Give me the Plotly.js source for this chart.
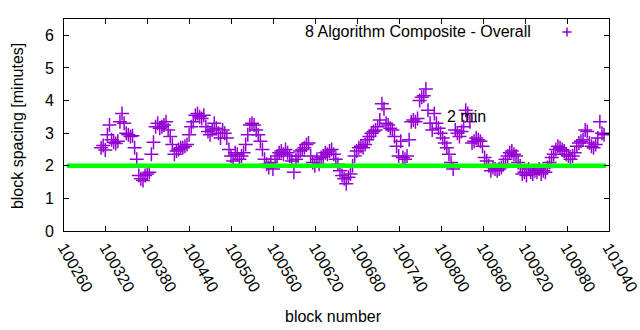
<!DOCTYPE html>
<html>
<head>
<meta charset="utf-8">
<script src="https://cdn.plot.ly/plotly-3.0.1.min.js"></script>
<style>html,body{margin:0;padding:0;background:#fff;}#chart{width:640px;height:330px;}</style>
</head>
<body>
<div id="chart"></div>
<script>
// Block numbers (x) and block spacing in minutes (y)
const blocks = [
100313,100316,100319,100322,100325,100328,100331,100334,100337,100340,
100343,100346,100349,100352,100355,100358,100361,100364,100367,100370,
100373,100376,100379,100382,100385,100388,100391,100394,100397,100400,
100403,100406,100409,100412,100415,100418,100421,100424,100427,100430,
100433,100436,100439,100442,100445,100448,100451,100454,100457,100460,
100463,100466,100469,100472,100475,100478,100481,100484,100487,100490,
100493,100496,100499,100502,100505,100508,100511,100514,100517,100520,
100523,100526,100529,100532,100535,100538,100541,100544,100547,100550,
100553,100556,100559,100562,100565,100568,100571,100574,100577,100580,
100583,100586,100589,100592,100595,100598,100601,100604,100607,100610,
100613,100616,100619,100622,100625,100628,100631,100634,100637,100640,
100643,100646,100649,100652,100655,100658,100661,100664,100667,100670,
100673,100676,100679,100682,100685,100688,100691,100694,100697,100700,
100703,100706,100709,100712,100715,100718,100721,100724,100727,100730,
100733,100736,100739,100742,100745,100748,100751,100754,100757,100760,
100763,100766,100769,100772,100775,100778,100781,100784,100787,100790,
100793,100796,100799,100802,100805,100808,100811,100814,100817,100820,
100823,100826,100829,100832,100835,100838,100841,100844,100847,100850,
100853,100856,100859,100862,100865,100868,100871,100874,100877,100880,
100883,100886,100889,100892,100895,100898,100901,100904,100907,100910,
100913,100916,100919,100922,100925,100928,100931,100934,100937,100940,
100943,100946,100949,100952,100955,100958,100961,100964,100967,100970,
100973,100976,100979,100982,100985,100988,100991,100994,100997,101000,
101003,101006,101009,101012,101015,101018,101021,101024,101027,101030,
101033
];
const spacing = [
2.55,2.62,2.48,2.95,3.25,2.8,2.72,2.68,2.75,3.35,
3.6,3.3,3.0,2.95,2.9,2.92,2.55,2.2,1.7,1.6,
1.55,1.7,1.75,1.8,2.35,2.72,3.2,3.3,3.15,3.2,
3.25,3.35,3.1,2.9,2.65,2.35,2.45,2.5,2.55,2.55,
2.6,2.65,2.95,3.2,3.35,3.55,3.6,3.5,3.45,3.55,
3.2,3.05,2.95,3.1,3.3,3.15,3.0,2.85,3.1,3.0,
2.85,2.5,2.3,2.15,2.4,2.35,2.2,2.3,2.4,2.65,
2.95,3.25,3.3,3.25,3.1,2.95,2.75,2.5,2.2,2.05,
1.95,2.1,1.9,2.2,2.3,2.4,2.45,2.35,2.5,2.4,
2.3,2.15,1.8,2.2,2.3,2.45,2.5,2.55,2.65,2.7,
2.3,2.1,2.0,2.2,2.05,2.25,2.3,2.4,2.35,2.45,
2.5,2.35,2.2,2.05,1.85,1.7,1.6,1.45,1.65,1.75,
2.0,2.3,2.45,2.55,2.6,2.55,2.65,2.8,2.9,3.0,
3.05,3.1,3.2,3.4,3.9,3.75,3.3,3.25,3.15,3.1,
2.9,2.6,2.3,2.75,2.25,2.2,2.3,2.8,3.35,3.4,
3.35,3.45,4.0,4.1,4.15,4.35,3.7,3.3,3.1,3.6,
3.3,3.15,3.0,2.85,2.7,2.55,2.35,2.1,1.9,3.1,
3.0,2.9,3.05,3.2,3.7,3.6,3.35,2.7,2.75,2.85,
2.8,2.75,2.6,2.25,2.15,2.0,1.85,1.95,1.9,1.85,
1.9,1.95,2.05,2.2,2.3,2.4,2.45,2.35,2.3,2.1,
2.0,1.75,1.8,1.7,1.9,1.8,1.75,1.85,1.8,1.9,
1.75,1.85,1.8,1.95,2.1,2.25,2.35,2.5,2.6,2.55,
2.5,2.45,2.35,2.3,2.2,2.3,2.4,2.6,2.7,2.75,
2.8,3.1,3.05,2.7,2.6,2.55,2.65,2.85,3.35,3.0,
2.95
];
// 2-minute target line
const targetBlocks = [100264, 101036];
const targetMinutes = [2, 2];
// x tick labels
const xTicks = [100260,100320,100380,100440,100500,100560,100620,100680,100740,100800,100860,100920,100980,101040];

const seriesName = "8 Algorithm Composite - Overall";
const targetLabel = "2 min";
const xTitle = "block number";
const yTitle = "block spacing [minutes]";

const violet = "#9400D3";
const font = {family: "Liberation Sans, Arial, sans-serif", size: 16, color: "#000"};

const traces = [
  {
    x: blocks, y: spacing, type: "scatter", mode: "markers", name: seriesName,
    marker: {symbol: "cross-thin", size: 10, color: violet, line: {color: violet, width: 1.5}},
    showlegend: false, hoverinfo: "skip"
  },
  {
    x: targetBlocks, y: targetMinutes, type: "scatter", mode: "lines", name: targetLabel,
    line: {color: "#00FF00", width: 4.5}, showlegend: false, hoverinfo: "skip"
  }
];

const layout = {
  width: 640, height: 330,
  margin: {l: 64, r: 31, t: 19, b: 99},
  paper_bgcolor: "#fff", plot_bgcolor: "#fff",
  font: font,
  showlegend: false,
  xaxis: {
    range: [100259.9, 101040.1], tickmode: "array", tickvals: xTicks,
    ticktext: xTicks.map(String), ticklabeloverflow: "allow",
    tickangle: 60, ticks: "inside", ticklen: 5, tickcolor: "#000",
    showline: true, linecolor: "#000", linewidth: 1, mirror: "ticks",
    showgrid: false, zeroline: false, tickfont: font
  },
  yaxis: {
    range: [0, 6.5], dtick: 1, tick0: 0, tickmode: "linear",
    ticks: "inside", ticklen: 5, tickcolor: "#000",
    showline: true, linecolor: "#000", linewidth: 1, mirror: "ticks",
    showgrid: false, zeroline: false, tickfont: font, ticklabelstandoff: 6
  },
  annotations: [
    {text: seriesName, xref: "paper", yref: "paper", x: 0.8606, y: 0.939,
     xanchor: "right", yanchor: "middle", showarrow: false, font: font},
    {text: targetLabel, xref: "paper", yref: "paper", x: 0.699, y: 0.538,
     xanchor: "left", yanchor: "middle", showarrow: false, font: font},
    {text: xTitle, xref: "paper", yref: "paper", x: 0.495, y: -0.401,
     xanchor: "center", yanchor: "middle", showarrow: false, font: font},
    {text: yTitle, xref: "paper", yref: "paper", x: -0.0862, y: 0.495,
     xanchor: "center", yanchor: "middle", textangle: -90, showarrow: false, font: font}
  ],
  shapes: [
    {type: "line", xref: "paper", yref: "paper", x0: (562.5-64)/545, x1: (571.5-64)/545,
     y0: (231-32)/212, y1: (231-32)/212, line: {color: violet, width: 1.5}},
    {type: "line", xref: "paper", yref: "paper", x0: (567-64)/545, x1: (567-64)/545,
     y0: (231-27.5)/212, y1: (231-36.5)/212, line: {color: violet, width: 1.5}}
  ]
};

Plotly.newPlot("chart", traces, layout, {staticPlot: true, displayModeBar: false});
</script>
</body>
</html>
